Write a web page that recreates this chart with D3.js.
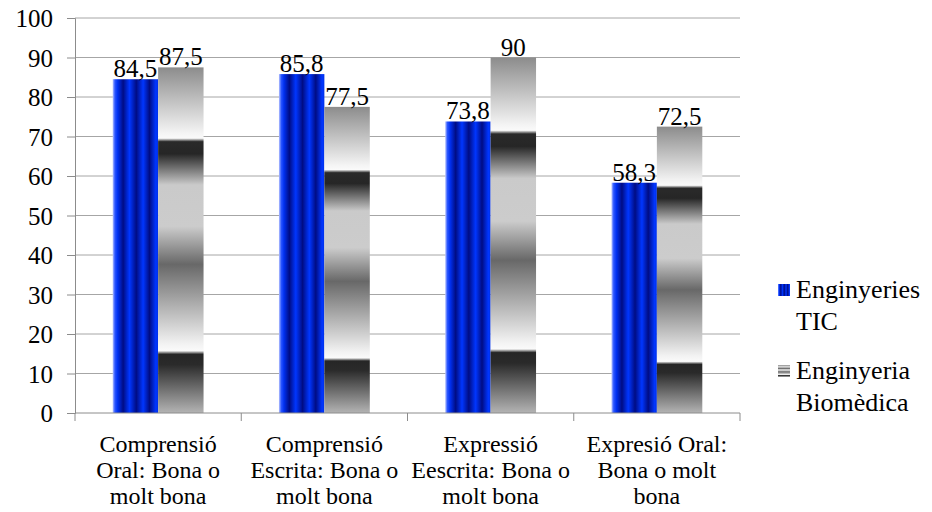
<!DOCTYPE html>
<head>
  <meta charset="utf-8">
  <script src="https://d3js.org/d3.v7.min.js"></script>
  <style>
    body { margin: 0; background: #fff; }
  </style>
</head>
<body>
  <script>
    // chart values
    var categories = [
      ["Comprensió", "Oral: Bona o", "molt bona"],
      ["Comprensió", "Escrita: Bona o", "molt bona"],
      ["Expressió", "Eescrita: Bona o", "molt bona"],
      ["Expresió Oral:", "Bona o molt", "bona"]
    ];
    var seriesNames = ["Enginyeries TIC", "Enginyeria Biomèdica"];
    var ticValues = [84.5, 85.8, 73.8, 58.3];
    var bioValues = [87.5, 77.5, 90, 72.5];
    var yTicks = [0, 10, 20, 30, 40, 50, 60, 70, 80, 90, 100];

    var serifFont = "'Liberation Serif', 'DejaVu Serif', serif";

    var outerWidth = 932, outerHeight = 512;
    var margin = { top: 18, left: 75, right: 192, bottom: 99 };
    var width = outerWidth - margin.left - margin.right,
      height = outerHeight - margin.top - margin.bottom;

    var svg = d3.select("body").append("svg")
      .attr("width", outerWidth)
      .attr("height", outerHeight);

    // gradients
    var defs = svg.append("defs");
    var blue = defs.append("linearGradient").attr("id", "blueStripes")
      .attr("x1", 0).attr("x2", 1).attr("y1", 0).attr("y2", 0);
    [[0, "#b8c4ff"], [0.05, "#2a55ff"], [0.11, "#0030f0"], [0.23, "#000c84"], [0.37, "#0036ff"],
     [0.52, "#000c84"], [0.67, "#0036ff"], [0.81, "#000c84"], [0.95, "#0036ff"], [1, "#0030e8"]]
      .forEach(function(s) {
        blue.append("stop").attr("offset", s[0]).attr("stop-color", s[1]);
      });

    var grey = defs.append("linearGradient").attr("id", "greyBands")
      .attr("x1", 0).attr("x2", 0).attr("y1", 0).attr("y2", 1);
    [[0, "#8c8c8c"], [0.19, "#f4f4f4"], [0.205, "#fafafa"], [0.215, "#2a2a2a"], [0.25, "#262626"],
     [0.34, "#cacaca"], [0.46, "#cccccc"], [0.57, "#686868"], [0.8, "#f2f2f2"], [0.82, "#fafafa"],
     [0.83, "#262626"], [0.86, "#2a2a2a"], [1, "#b4b4b4"]]
      .forEach(function(s) {
        grey.append("stop").attr("offset", s[0]).attr("stop-color", s[1]);
      });

    var g = svg.append("g")
      .attr("transform", "translate(" + margin.left + "," + margin.top + ")");

    var x0 = d3.scaleBand().domain(d3.range(categories.length)).range([0, width]);
    var x1 = d3.scaleBand().domain([0, 1]).range([0, x0.bandwidth()]).paddingOuter(0.83);
    var yScale = d3.scaleLinear().domain([0, 100]).range([height, 0]);

    // gridlines
    g.selectAll(".grid").data(yTicks.slice(1)).enter().append("line")
      .attr("x1", 0).attr("x2", width)
      .attr("y1", function(d) { return yScale(d); })
      .attr("y2", function(d) { return yScale(d); })
      .attr("stroke", "#a6a6a6").attr("stroke-width", 1);

    // y axis
    var yAxis = d3.axisLeft(yScale).tickValues(yTicks).tickSize(8).tickPadding(14);
    var yAxisG = g.append("g").call(yAxis);
    yAxisG.select(".domain").attr("stroke", "#8c8c8c");
    yAxisG.selectAll(".tick line").attr("stroke", "#8c8c8c");
    yAxisG.selectAll(".tick text").style("font-size", "25px").attr("dy", "0.34em").attr("fill", "#000");

    // bars
    var rows = categories.map(function(c, i) { return [ticValues[i], bioValues[i]]; });
    var groups = g.selectAll(".cat").data(rows).enter().append("g")
      .attr("transform", function(d, i) { return "translate(" + x0(i) + ",0)"; });

    groups.selectAll("rect").data(function(d) { return d; }).enter().append("rect")
      .attr("x", function(d, j) { return x1(j); })
      .attr("width", x1.bandwidth())
      .attr("y", function(d) { return yScale(d); })
      .attr("height", function(d) { return height - yScale(d); })
      .attr("fill", function(d, j) { return j === 0 ? "url(#blueStripes)" : "url(#greyBands)"; });

    groups.selectAll(".lbl").data(function(d) { return d; }).enter().append("text")
      .attr("x", function(d, j) { return x1(j) + x1.bandwidth() / 2; })
      .attr("y", function(d) { return yScale(d) - 2; })
      .attr("text-anchor", "middle")
      .style("font-size", "25px")
      .text(function(d) { return String(d).replace(".", ","); });

    // x axis
    var xAxisG = g.append("g").attr("transform", "translate(0," + height + ")");
    xAxisG.append("line").attr("x1", 0).attr("x2", width).attr("stroke", "#8c8c8c");
    xAxisG.selectAll(".xt").data(d3.range(categories.length + 1)).enter().append("line")
      .attr("x1", function(i) { return i * x0.step(); })
      .attr("x2", function(i) { return i * x0.step(); })
      .attr("y1", 0).attr("y2", 8).attr("stroke", "#8c8c8c");

    categories.forEach(function(lines, i) {
      var t = xAxisG.append("text")
        .attr("x", x0(i) + x0.bandwidth() / 2)
        .attr("y", 39)
        .attr("text-anchor", "middle")
        .style("font-size", "24px");
      lines.forEach(function(line, k) {
        t.append("tspan").attr("x", x0(i) + x0.bandwidth() / 2)
          .attr("dy", k === 0 ? 0 : 26).text(line);
      });
    });

    // legend
    var legend = svg.append("g").attr("transform", "translate(778,284)");
    var legendLines = [["Enginyeries", "TIC"], ["Enginyeria", "Biomèdica"]];
    legendLines.forEach(function(lines, i) {
      var item = legend.append("g").attr("transform", "translate(0," + i * 81 + ")");
      item.append("rect").attr("width", 12).attr("height", 12)
        .attr("fill", i === 0 ? "url(#blueStripes)" : "url(#greyBands)");
      var t = item.append("text").attr("x", 18).attr("y", 14).style("font-size", "26px");
      lines.forEach(function(line, k) {
        t.append("tspan").attr("x", 18).attr("dy", k === 0 ? 0 : 32).text(line);
      });
    });

    // same serif face on every text
    svg.selectAll("text").style("font-family", serifFont).style("fill", "#000");
  </script>
</body>
